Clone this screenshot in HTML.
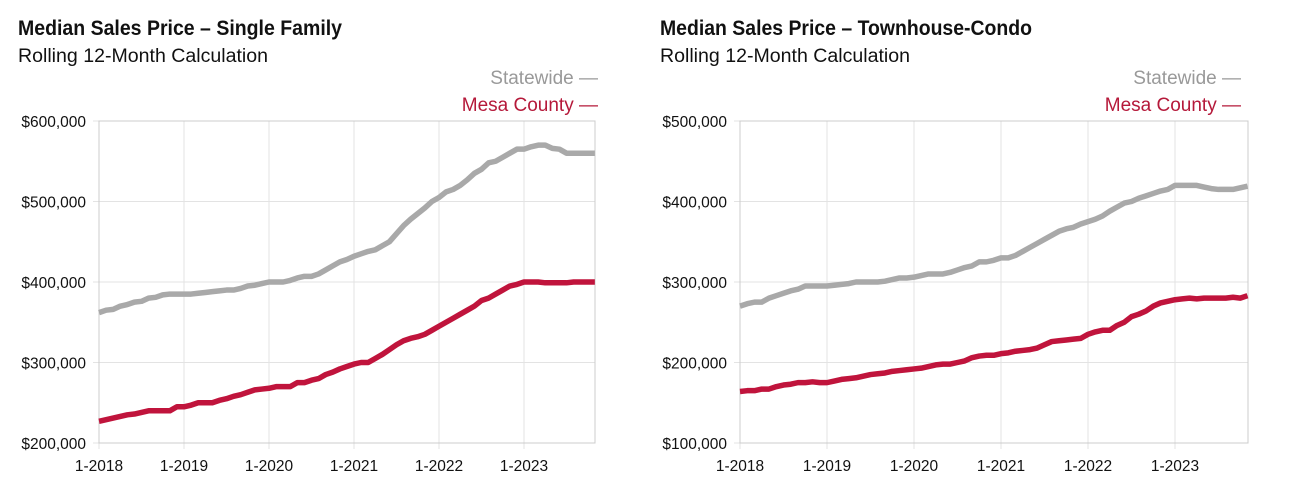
<!DOCTYPE html>
<html><head><meta charset="utf-8"><style>
body{margin:0;background:#fff;}
svg{display:block;font-family:"Liberation Sans",Arial,sans-serif;}
</style></head><body>
<svg id="c" width="1292" height="482"></svg>
<script>
const years=["1-2018","1-2019","1-2020","1-2021","1-2022","1-2023"];
const sfState=[362,365,366,370,372,375,376,380,381,384,385,385,385,385,386,387,388,389,390,390,392,395,396,398,400,400,400,402,405,407,407,410,415,420,425,428,432,435,438,440,445,450,460,470,478,485,492,500,505,512,515,520,527,535,540,548,550,555,560,565,565,568,570,570,566,565,560,560,560,560,560];
const sfMesa=[227,229,231,233,235,236,238,240,240,240,240,245,245,247,250,250,250,253,255,258,260,263,266,267,268,270,270,270,275,275,278,280,285,288,292,295,298,300,300,305,310,316,322,327,330,332,335,340,345,350,355,360,365,370,377,380,385,390,395,397,400,400,400,399,399,399,399,400,400,400,400];
const tcState=[270,273,275,275,280,283,286,289,291,295,295,295,295,296,297,298,300,300,300,300,301,303,305,305,306,308,310,310,310,312,315,318,320,325,325,327,330,330,333,338,343,348,353,358,363,366,368,372,375,378,382,388,393,398,400,404,407,410,413,415,420,420,420,420,418,416,415,415,415,417,419];
const tcMesa=[164,165,165,167,167,170,172,173,175,175,176,175,175,177,179,180,181,183,185,186,187,189,190,191,192,193,195,197,198,198,200,202,206,208,209,209,211,212,214,215,216,218,222,226,227,228,229,230,235,238,240,240,246,250,257,260,264,270,274,276,278,279,280,279,280,280,280,280,281,280,283];
const sfTicks=[200,300,400,500,600];
const tcTicks=[100,200,300,400,500];
const NS="http://www.w3.org/2000/svg";
const svg=document.getElementById('c');
function mk(tag,attrs,parent,txt){const e=document.createElementNS(NS,tag);for(const k in attrs)e.setAttribute(k,attrs[k]);if(txt!==undefined)e.textContent=txt;parent.appendChild(e);return e;}
function chart(cfg){
  const g=mk('g',{},svg);
  
  
  const t=mk('text',{x:cfg.tx,y:35,'font-size':21,'font-weight':'bold',fill:'#111',textLength:cfg.tw,lengthAdjust:'spacingAndGlyphs'},g,cfg.title);
  
  
  const s=mk('text',{x:cfg.tx,y:62,'font-size':19,fill:'#111',textLength:250,lengthAdjust:'spacingAndGlyphs'},g,'Rolling 12-Month Calculation');
  
  
  const l1=mk('text',{x:cfg.lx,y:84,'font-size':19,fill:'#999','text-anchor':'end'},g,'Statewide —');
  
  
  const l2=mk('text',{x:cfg.lx,y:111,'font-size':19,fill:'#b5193a','text-anchor':'end'},g,'Mesa County —');
  
  
  const x0=cfg.x0,x1=cfg.x1,y0=443,y1=121;
  const ymin=cfg.ticks[0],ymax=cfg.ticks[cfg.ticks.length-1];
  const Y=v=>y0-(v-ymin)/(ymax-ymin)*(y0-y1);
  const X=i=>x0+i*cfg.mw;
  cfg.ticks.forEach(v=>{
    const ln=mk('line',{x1:x0-6,x2:x1,y1:Y(v),y2:Y(v),stroke:'#e3e3e3','stroke-width':1},g);
    
    
    const tl=mk('text',{x:x0-13,y:Y(v)+6,'font-size':15.5,fill:'#111','text-anchor':'end'},g,'$'+v+',000');
    
    
  });
  years.forEach((yr,k)=>{
    const xx=X(k*12);
    const ln=mk('line',{x1:xx,x2:xx,y1:y1,y2:y0+6,stroke:'#e3e3e3','stroke-width':1},g);
    
    
    const tl=mk('text',{x:xx,y:471,'font-size':15.5,fill:'#111','text-anchor':'middle'},g,yr);
    
    
  });
  const fr=mk('rect',{x:x0,y:y1,width:x1-x0,height:y0-y1,fill:'none',stroke:'#ccc','stroke-width':1},g);
  
  
  [[cfg.state,'#a9a9a9','statewide-line'],[cfg.mesa,'#c0143c','mesa-county-line']].forEach(([d,c,n])=>{
    const p=mk('polyline',{points:d.map((v,i)=>X(i)+','+Y(v)).join(' '),fill:'none',stroke:c,'stroke-width':5.5,'stroke-linejoin':'round'},g);
    
    
  });
}
chart({name:'single-family-chart',title:'Median Sales Price – Single Family',tx:18,tw:324,lx:598,x0:99,x1:595,mw:85/12,ticks:sfTicks,state:sfState,mesa:sfMesa});
chart({name:'townhouse-condo-chart',title:'Median Sales Price – Townhouse-Condo',tx:660,tw:372,lx:1241,x0:740,x1:1248,mw:87/12,ticks:tcTicks,state:tcState,mesa:tcMesa});
</script>
</body></html>
